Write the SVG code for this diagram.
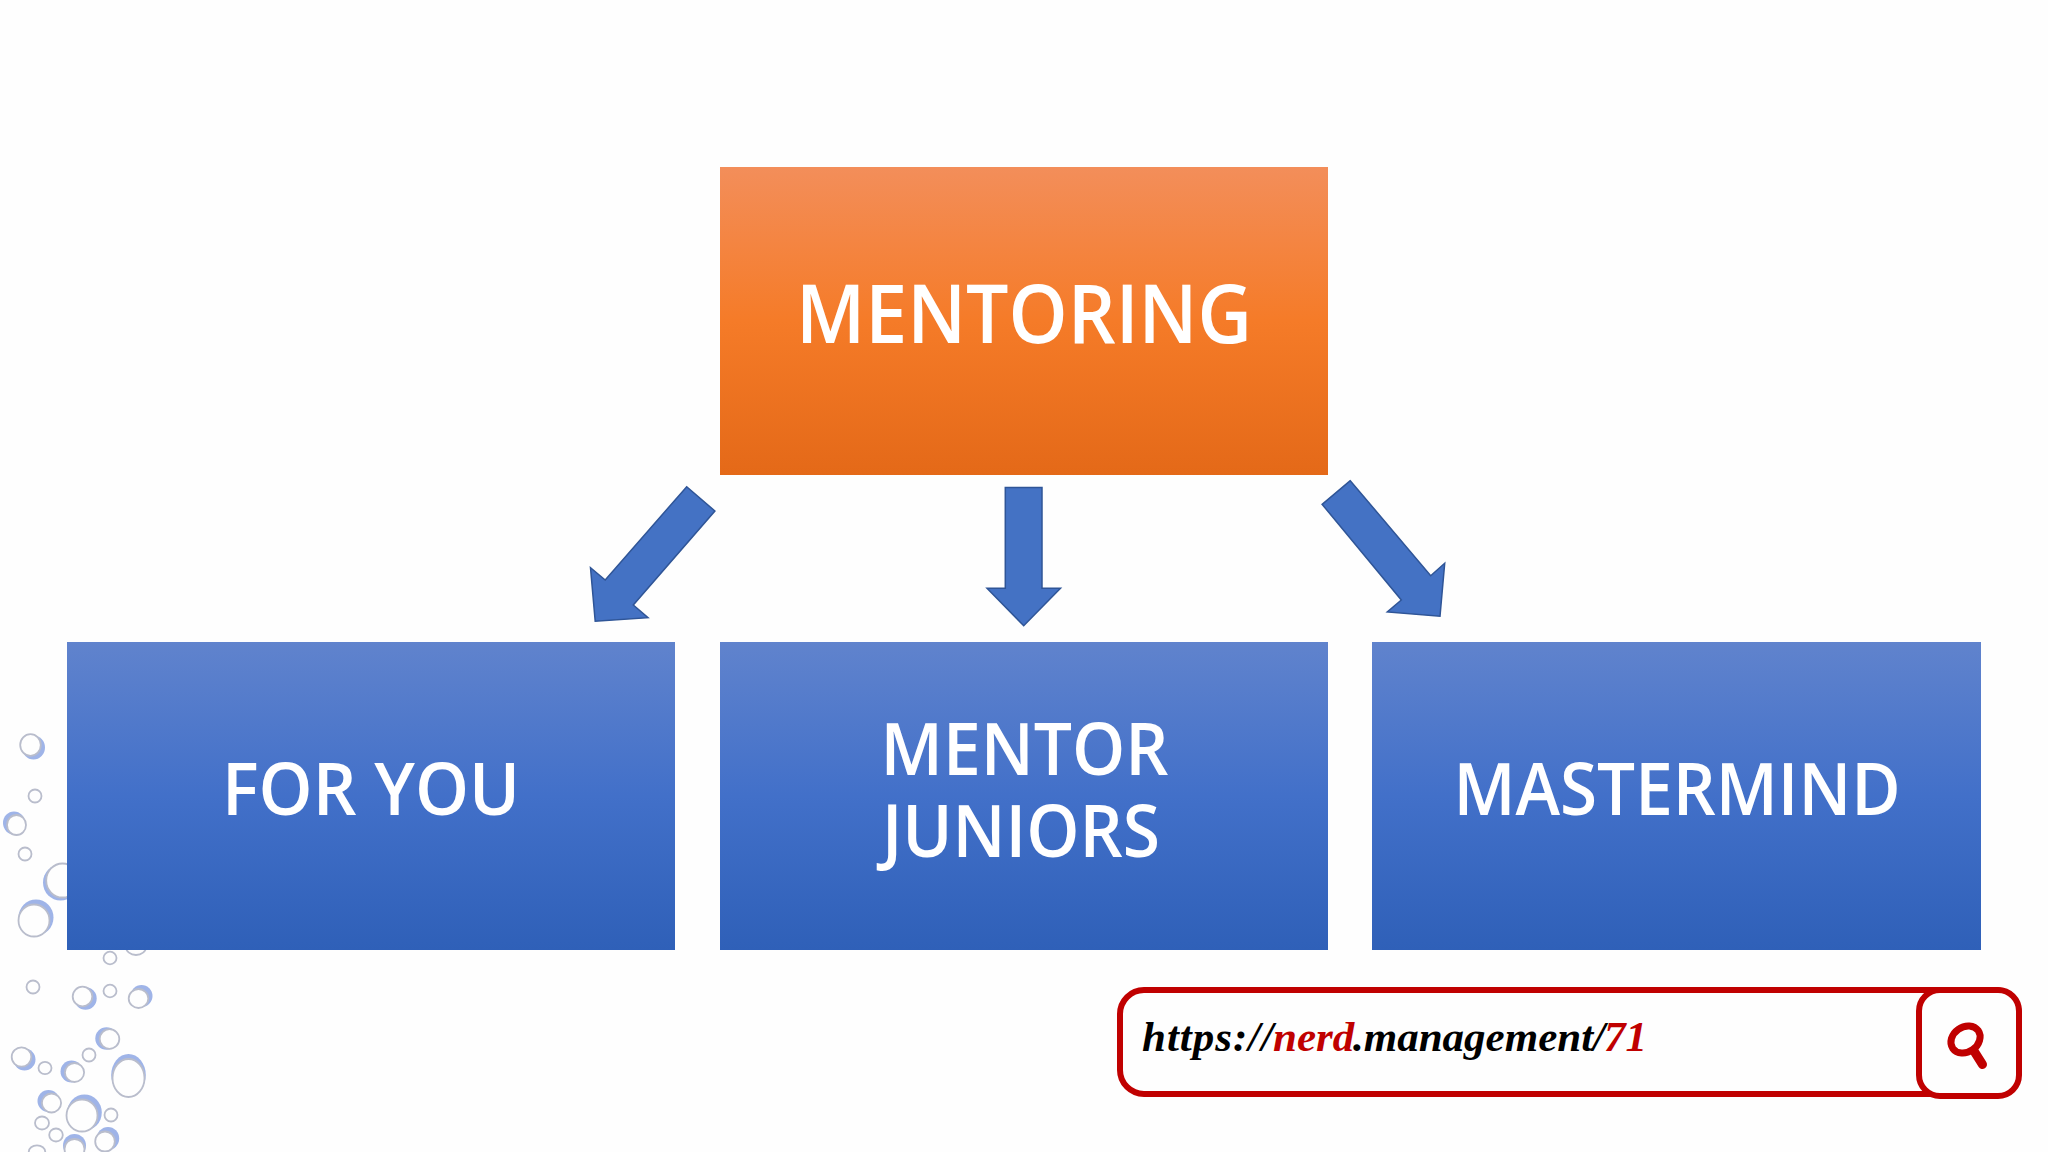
<svg xmlns="http://www.w3.org/2000/svg" width="2048" height="1152" viewBox="0 0 2048 1152">
<defs>
<linearGradient id="gO" x1="0" y1="0" x2="0" y2="1"><stop offset="0" stop-color="#F38E5A"/><stop offset="0.5" stop-color="#F57B28"/><stop offset="1" stop-color="#E46918"/></linearGradient>
<linearGradient id="gB" x1="0" y1="0" x2="0" y2="1"><stop offset="0" stop-color="#6083CD"/><stop offset="0.5" stop-color="#4270C9"/><stop offset="1" stop-color="#2F60B8"/></linearGradient>
<filter id="soft" x="-5%" y="-5%" width="110%" height="110%"><feGaussianBlur stdDeviation="0.6"/></filter>
</defs>
<style>
.lbl{font-family:"Open Sans","Noto Sans",sans-serif;fill:#fff;text-anchor:middle;font-weight:600}
.arrow{fill:#4472C4;stroke:#2F5597;stroke-width:1.5;stroke-linejoin:miter}
.ring{fill:#FEFEFE;stroke:#B9BDCC;stroke-width:1.8}
.cres{fill:#9FB4E8}
.url{font-family:"Liberation Serif",serif;font-style:italic;font-weight:700;font-size:43px}
.red{fill:#C00000}
.frame{fill:none;stroke:#C00000;stroke-width:6}
</style>
<rect width="2048" height="1152" fill="#FEFEFE"/>
<g id="bubbles" filter="url(#soft)">
<ellipse class="cres" cx="33.500" cy="747.500" rx="11.500" ry="12"/><ellipse class="ring" cx="30.500" cy="745" rx="10.300" ry="10.800"/>
<ellipse class="ring" cx="35" cy="796" rx="6.500" ry="6.500"/>
<ellipse class="cres" cx="14" cy="823" rx="11" ry="11.500"/><ellipse class="ring" cx="16.500" cy="825" rx="9.500" ry="10"/>
<ellipse class="ring" cx="25" cy="854" rx="6.500" ry="6.500"/>
<ellipse class="cres" cx="60.500" cy="882.500" rx="17.500" ry="18"/><ellipse class="ring" cx="62.500" cy="880.500" rx="16.300" ry="17"/>
<ellipse class="cres" cx="36" cy="917.500" rx="17.500" ry="18"/><ellipse class="ring" cx="34" cy="920.500" rx="15.500" ry="16"/>
<ellipse class="ring" cx="110" cy="958" rx="6.500" ry="6.300"/>
<ellipse class="ring" cx="136" cy="947" rx="10" ry="8"/>
<ellipse class="ring" cx="33" cy="987" rx="6.500" ry="6.500"/>
<ellipse class="cres" cx="85.500" cy="998.500" rx="11.200" ry="11.200"/><ellipse class="ring" cx="82.500" cy="996.500" rx="9.800" ry="9.800"/>
<ellipse class="ring" cx="110" cy="991" rx="6.500" ry="6.300"/>
<ellipse class="cres" cx="141.500" cy="996" rx="11" ry="11"/><ellipse class="ring" cx="138.500" cy="998.500" rx="9.800" ry="9.500"/>
<ellipse class="cres" cx="106.500" cy="1038.500" rx="11.200" ry="11.200"/><ellipse class="ring" cx="109.500" cy="1039" rx="9.800" ry="9.800"/>
<ellipse class="ring" cx="89" cy="1055" rx="6.500" ry="6.500"/>
<ellipse class="cres" cx="24.500" cy="1059.500" rx="11" ry="11"/><ellipse class="ring" cx="21.500" cy="1057" rx="9.800" ry="9.600"/>
<ellipse class="ring" cx="45" cy="1068" rx="6.500" ry="6.200"/>
<ellipse class="cres" cx="71.500" cy="1071.500" rx="11" ry="11"/><ellipse class="ring" cx="74.500" cy="1072.500" rx="9.600" ry="9.500"/>
<ellipse class="cres" cx="128.500" cy="1075" rx="17.300" ry="21"/><ellipse class="ring" cx="128.500" cy="1078" rx="16" ry="19"/>
<ellipse class="cres" cx="48.500" cy="1101" rx="11" ry="11"/><ellipse class="ring" cx="51.500" cy="1103" rx="9.600" ry="9.500"/>
<ellipse class="cres" cx="84.500" cy="1112.500" rx="17.300" ry="18"/><ellipse class="ring" cx="82" cy="1115.500" rx="15.500" ry="16"/>
<ellipse class="ring" cx="111" cy="1115" rx="6.500" ry="6.500"/>
<ellipse class="ring" cx="42" cy="1123" rx="7" ry="6.500"/>
<ellipse class="ring" cx="56" cy="1135" rx="6.800" ry="6.500"/>
<ellipse class="cres" cx="108" cy="1138.500" rx="11.200" ry="11.500"/><ellipse class="ring" cx="105" cy="1141.500" rx="9.800" ry="10"/>
<ellipse class="cres" cx="74.500" cy="1145.500" rx="11.500" ry="11.500"/><ellipse class="ring" cx="74.500" cy="1149" rx="10" ry="10"/>
<ellipse class="ring" cx="37" cy="1152" rx="8.300" ry="6.700"/>
</g>
<g id="node-mentoring">
<rect x="720" y="167" width="608" height="308" fill="url(#gO)"/>
<text class="lbl" x="1024" y="343" font-size="82" textLength="456" lengthAdjust="spacingAndGlyphs">MENTORING</text>
</g>
<g id="node-for-you">
<rect x="67" y="642" width="608" height="308" fill="url(#gB)"/>
<text class="lbl" x="371" y="815" font-size="72" textLength="298" lengthAdjust="spacingAndGlyphs">FOR YOU</text>
</g>
<g id="node-mentor-juniors">
<rect x="720" y="642" width="608" height="308" fill="url(#gB)"/>
<text class="lbl" x="1024.500" y="775" font-size="72" textLength="288" lengthAdjust="spacingAndGlyphs">MENTOR</text>
<text class="lbl" x="1021" y="857" font-size="72" textLength="278" lengthAdjust="spacingAndGlyphs">JUNIORS</text>
</g>
<g id="node-mastermind">
<rect x="1372" y="642" width="609" height="308" fill="url(#gB)"/>
<text class="lbl" x="1677" y="815" font-size="72" textLength="447" lengthAdjust="spacingAndGlyphs">MASTERMIND</text>
</g>
<g id="connectors">
<polygon class="arrow" points="686.700,486.700 714.900,511 633.300,605 648,617.700 595.200,621.300 590.500,567.700 605.200,580"/>
<polygon class="arrow" points="1005.300,487.500 1042,487.500 1042,588.300 1060.500,588.300 1023.700,625.700 987,588.300 1005.300,588.300"/>
<polygon class="arrow" points="1350.300,480.700 1322.100,504.300 1401.300,600 1387.300,612 1440,616.300 1444.700,563.300 1430.700,575.700"/>
</g>
<g id="search-bar">
<rect class="frame" x="1120" y="990" width="899" height="104" rx="24" ry="24"/>
<rect x="1919" y="990" width="100" height="106" rx="21" ry="21" fill="#FEFEFE" stroke="#C00000" stroke-width="6"/>
<text class="url" y="1051"><tspan x="1142" letter-spacing="1">https://</tspan><tspan x="1273" class="red">nerd</tspan><tspan x="1353">.management/</tspan><tspan x="1604" class="red">71</tspan></text>
<g id="search-icon" fill="none" stroke="#C00000">
<ellipse cx="1965.500" cy="1039.500" rx="15.500" ry="12.500" stroke-width="7" transform="rotate(-35 1965.500 1039.500)"/>
<line x1="1974" y1="1051" x2="1982.500" y2="1064.500" stroke-width="9" stroke-linecap="round"/>
</g>
</g>
</svg>
